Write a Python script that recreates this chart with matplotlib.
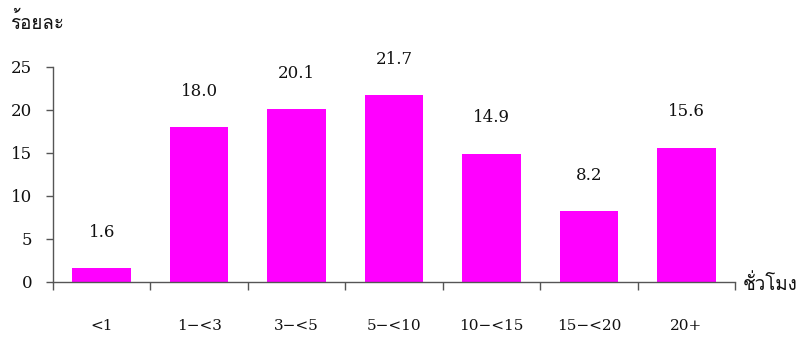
import matplotlib
matplotlib.use('Agg')
import matplotlib.pyplot as plt
import numpy as np

# Percent of workers by hours worked
categories = ['<1', '1-<3', '3-<5', '5-<10', '10-<15', '15-<20', '20+']
percent = [1.6, 18.0, 20.1, 21.7, 14.9, 8.2, 15.6]
yticks = [0, 5, 10, 15, 20, 25]

num_font = ['DejaVu Serif']
thai_font = ['Loma', 'Noto Sans Thai Looped', 'DejaVu Sans']
axis_col = '#555555'

fig = plt.figure(figsize=(8.02, 3.38), dpi=100)
ax = fig.add_axes([0.0661, 0.1657, 0.8504, 0.6361])

x = np.arange(len(categories))
ax.bar(x, percent, width=0.6, color='#ff00ff')

for xi, v in zip(x, percent):
    ax.annotate('%.1f' % v, (xi, v), xytext=(0, 26), textcoords='offset points',
                ha='center', va='center', fontsize=12, family=num_font, color='#111111')

ax.set_xlim(-0.5, len(categories) - 0.5)
ax.set_ylim(0, 25)
ax.set_yticks(yticks)
ax.set_yticklabels([str(t) for t in yticks], family=num_font, fontsize=12)
ax.set_xticks(x)
ax.set_xticklabels([c.replace('-', '\u2212') for c in categories], family=num_font, fontsize=11)
ax.set_xticks(np.arange(len(categories) + 1) - 0.5, minor=True)

ax.tick_params(axis='x', which='major', length=0, pad=27, colors='#111111')
ax.tick_params(axis='x', which='minor', length=6, width=1, color=axis_col)
ax.tick_params(axis='y', length=5, width=1, pad=10, color=axis_col, labelcolor='#111111')

for s in ['top', 'right']:
    ax.spines[s].set_visible(False)
for s in ['left', 'bottom']:
    ax.spines[s].set_color(axis_col)
    ax.spines[s].set_linewidth(1)

fig.text(10 / 802, 1 - 22 / 338, 'ร้อยละ', family=thai_font, fontsize=13.5,
         ha='left', va='center', color='#111111')
fig.text(743 / 802, 1 - 284 / 338, 'ชั่วโมง', family=thai_font, fontsize=13.5,
         ha='left', va='center', color='#111111')

fig.savefig('out.png')
